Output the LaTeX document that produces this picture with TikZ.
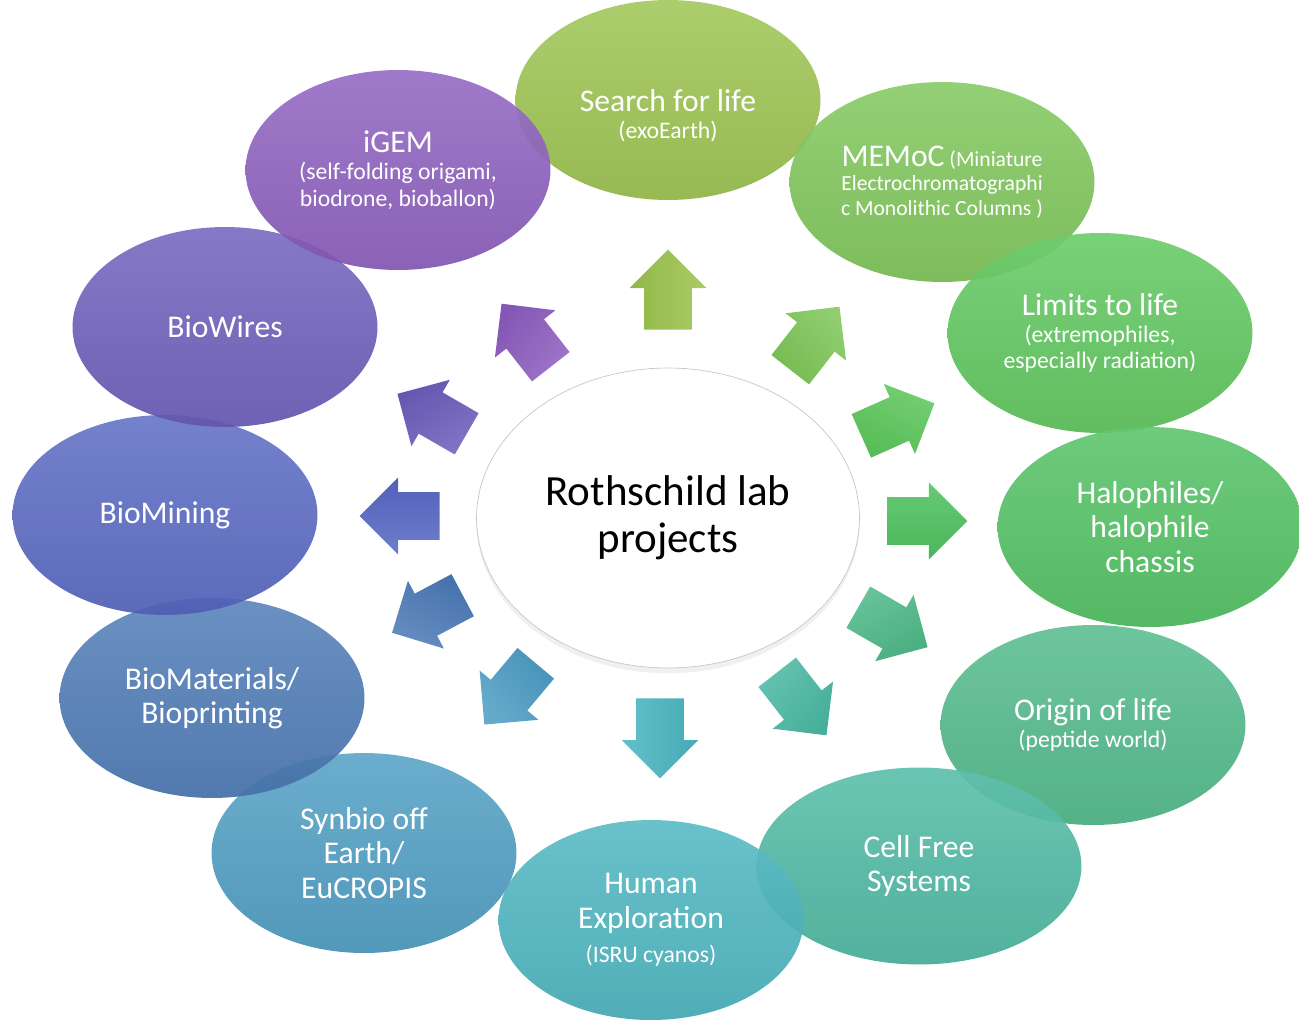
\documentclass[tikz,border=0pt]{standalone}
\usepackage{fontspec}
\setmainfont{Carlito}
\usetikzlibrary{shapes.geometric,shapes.arrows,shadows}
\definecolor{pjlime}{HTML}{9AC24B}
\definecolor{pjleaf}{HTML}{7CC556}
\definecolor{pjgreen}{HTML}{5BC65A}
\definecolor{pjemerald}{HTML}{4DC05E}
\definecolor{pjsea}{HTML}{4DB887}
\definecolor{pjteal}{HTML}{4AB8A2}
\definecolor{pjcyan}{HTML}{48B4BF}
\definecolor{pjsky}{HTML}{4A9BC2}
\definecolor{pjsteel}{HTML}{4A78B5}
\definecolor{pjindigo}{HTML}{5566C2}
\definecolor{pjviolet}{HTML}{6B5BBA}
\definecolor{pjpurple}{HTML}{8B5CBE}
\newcommand{\maintext}{\fontsize{18}{19.5}\selectfont}
\newcommand{\subtext}{\fontsize{13.5}{15.3}\selectfont}
\newcommand{\smalltext}{\fontsize{12.3}{14}\selectfont}

\begin{document}
\begin{tikzpicture}[x=0.02cm, y=-0.02cm,
  project/.style={ellipse, minimum width=6.1cm, minimum height=4cm, inner sep=0pt,
                  align=center, text=white, fill opacity=0.93, text opacity=1,
                  top color=#1!88!white, bottom color=#1!93!black, font=\maintext},
  spoke/.style 2 args={single arrow, single arrow head extend=0.29cm,
                  minimum height=1.6cm, inner xsep=0pt, inner ysep=0.47cm,
                  anchor=tail, rotate=#1, top color=#2!85!white, bottom color=#2!95!black,
                  shading angle=-#1},
]
\useasboundingbox (0,0) rectangle (1299,1025);

% Outer projects, clockwise from the top
\node[project=pjlime, font=\subtext] (search) at (668,100)
      {{\maintext\rule{0pt}{30pt}Search for life}\\(exoEarth)};
\node[project=pjleaf, font=\smalltext] (memoc) at (942,182)
      {{\maintext MEMoC} (Miniature\\Electrochromatographi\\c Monolithic Columns )};
\node[project=pjgreen, font=\subtext] (limits) at (1100,333)
      {{\maintext Limits to life}\\(extremophiles,\\especially radiation)};
\node[project=pjemerald] (halo) at (1150,527)
      {Halophiles/\\halophile\\chassis};
\node[project=pjsea, font=\subtext] (origin) at (1093,725)
      {{\maintext Origin of life}\\(peptide world)};
\node[project=pjteal, minimum width=6.5cm, minimum height=3.94cm] (cellfree) at (919,866)
      {Cell Free\\Systems};
\node[project=pjcyan] (human) at (651,920)
      {Human\\Exploration\\{\subtext (ISRU cyanos)}};
\node[project=pjsky] (synbio) at (364,853)
      {Synbio off\\Earth/\\EuCROPIS};
\node[project=pjsteel] (biomat) at (212,698)
      {BioMaterials/\\Bioprinting};
\node[project=pjindigo] (biomining) at (165,515)
      {BioMining};
\node[project=pjviolet] (biowires) at (225,327)
      {BioWires};
\node[project=pjpurple, font=\subtext] (igem) at (398,170)
      {{\maintext iGEM}\\(self-folding origami,\\biodrone, bioballon)};

% Center
\node[ellipse, draw=black!22, fill=white, minimum width=7.66cm, minimum height=6cm,
      align=center, drop shadow={opacity=0.12, shadow xshift=0pt, shadow yshift=-3pt},
      font=\fontsize{24.5}{27}\selectfont] (hub) at (668,518)
      {Rothschild lab\\projects};

% Arrows out of the center (placed by their tails)
\node[spoke={90}{pjlime}]      (a1)  at (668,330) {};
\node[spoke={52}{pjleaf}]      (a2)  at (790,370) {};
\node[spoke={24}{pjgreen}]     (a3)  at (861,436) {};
\node[spoke={0}{pjemerald}]    (a4)  at (887,521) {};
\node[spoke={-30}{pjsea}]      (a5)  at (858,607) {};
\node[spoke={-52}{pjteal}]     (a6)  at (777,672) {};
\node[spoke={-90}{pjcyan}]     (a7)  at (660,698) {};
\node[spoke={-130}{pjsky}]     (a8)  at (536,663) {};
\node[spoke={-152}{pjsteel}]   (a9)  at (463,595) {};
\node[spoke={180}{pjindigo}]   (a10) at (440,516) {};
\node[spoke={150}{pjviolet}]   (a11) at (467,434) {};
\node[spoke={128}{pjpurple}]   (a12) at (551,367) {};

\end{tikzpicture}
\end{document}
